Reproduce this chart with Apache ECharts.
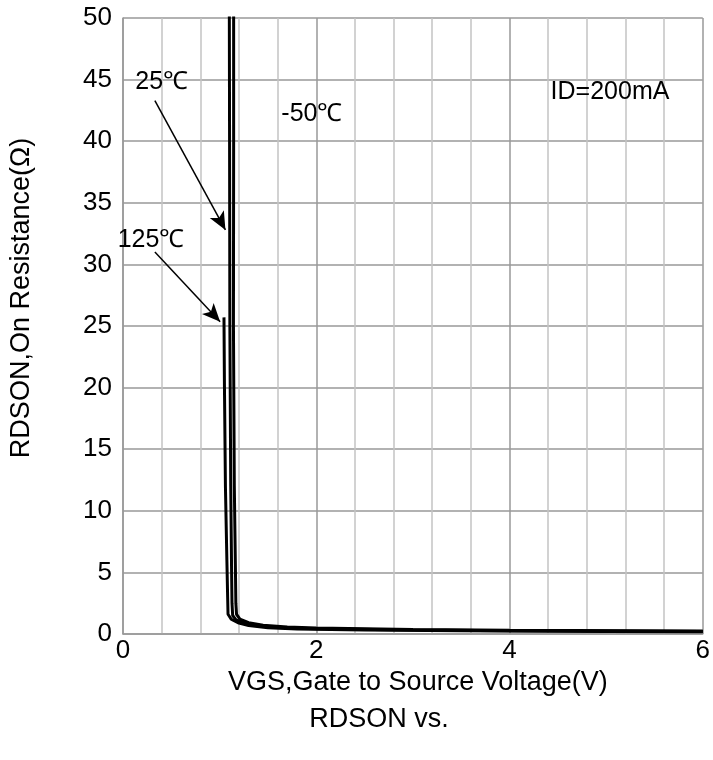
<!DOCTYPE html>
<html>
<head>
<meta charset="utf-8">
<script src="https://cdn.jsdelivr.net/npm/echarts@6/dist/echarts.min.js"></script>
<style>
html,body{margin:0;padding:0;background:#fff;}
#chart{width:713px;height:760px;}
</style>
</head>
<body>
<div id="chart"></div>
<script>
// Data (VGS in V, RDSON in ohm)
const curve125 = [[1.045,25.7],[1.05,20],[1.06,12],[1.075,6],[1.083,3],[1.087,1.6],[1.12,1.2],[1.2,0.88],[1.3,0.68],[1.5,0.5],[1.8,0.4],[2.5,0.32],[3.5,0.26],[5,0.21],[6,0.18]];
const curve25 = [[1.1,52],[1.103,40],[1.106,25],[1.115,12],[1.124,5],[1.128,2.5],[1.135,1.5],[1.17,1.15],[1.25,0.9],[1.4,0.68],[1.6,0.52],[2,0.42],[3,0.32],[4,0.27],[6,0.21]];
const curveM50 = [[1.145,52],[1.145,40],[1.143,25],[1.152,12],[1.164,5],[1.168,2.5],[1.175,1.6],[1.21,1.2],[1.3,0.92],[1.45,0.72],[1.7,0.56],[2,0.48],[3,0.37],[4,0.31],[6,0.25]];
const xTicks = [0,2,4,6];
const yTicks = [0,5,10,15,20,25,30,35,40,45,50];
const labels = [
  {text:'25℃', coord:[0.40,44.8]},
  {text:'-50℃', coord:[1.955,42.2]},
  {text:'125℃', coord:[0.29,32.0]},
  {text:'ID=200mA', coord:[5.04,44.0]}
];
const arrows = [
  [[0.33,43.3],[1.06,32.8]],
  [[0.33,31.0],[1.005,25.35]]
];
const yTitle = 'RDSON,On Resistance(Ω)';
const xTitle = 'VGS,Gate to Source Voltage(V)';
const chartTitle = 'RDSON vs.';

const chart = echarts.init(document.getElementById('chart'));
const FONT = 'Liberation Sans, Arial, sans-serif';
const curveStyle = {color:'#000', width:3};
const mkCurve = (name, data) => ({
  name, type:'line', data, symbol:'none', showSymbol:false, clip:true,
  lineStyle:curveStyle, itemStyle:{color:'#000'}, animation:false, z:3
});
chart.setOption({
  animation:false,
  backgroundColor:'#fff',
  title:{text:chartTitle, left:374, top:701, textAlign:'center',
    textStyle:{fontFamily:FONT, fontSize:27, fontWeight:'normal', color:'#000'}},
  graphic:[{type:'text', x:22, y:298, rotation:Math.PI/2, silent:true,
    style:{text:yTitle, fontFamily:FONT, fontSize:27, fill:'#000',
      textAlign:'center', textVerticalAlign:'middle'}}],
  grid:{left:123, right:7, top:18, bottom:126, containLabel:false},
  xAxis:{type:'value', min:0, max:6, interval:2,
    name:xTitle, nameLocation:'middle', nameGap:25,
    nameTextStyle:{fontFamily:FONT, fontSize:27, color:'#000', padding:[0,0,0,10]},
    axisLine:{show:true, lineStyle:{color:'#999', width:1.5}},
    axisTick:{show:false},
    axisLabel:{fontFamily:FONT, fontSize:26, color:'#000', margin:4,
      formatter:v=>xTicks.includes(v)?String(v):''},
    splitLine:{show:true, lineStyle:{color:'#999', width:1.5}},
    minorTick:{show:false, splitNumber:5},
    minorSplitLine:{show:true, lineStyle:{color:'#c4c4c4', width:1.5}}
  },
  yAxis:{type:'value', min:0, max:50, interval:5,
    axisLine:{show:true, lineStyle:{color:'#999', width:1.5}},
    axisTick:{show:false},
    axisLabel:{fontFamily:FONT, fontSize:26, color:'#000', margin:11,
      formatter:v=>yTicks.includes(v)?String(v):''},
    splitLine:{show:true, lineStyle:{color:'#999', width:1.5}}
  },
  series:[
    mkCurve('125℃', curve125),
    mkCurve('25℃', curve25),
    mkCurve('-50℃', curveM50),
    {type:'line', data:[], silent:true,
      markLine:{silent:true, symbol:['none','arrow'], symbolSize:[12,18], animation:false,
        lineStyle:{color:'#000', width:1.5, type:'solid'}, label:{show:false},
        data:arrows.map(a=>[{coord:a[0]},{coord:a[1]}])},
      markPoint:{silent:true, symbol:'circle', symbolSize:0, animation:false,
        label:{show:true, position:'inside', fontFamily:FONT, fontSize:25, color:'#000'},
        data:labels.map(l=>({coord:l.coord, value:l.text, label:{formatter:l.text}}))}
    }
  ]
});
</script>
</body>
</html>
